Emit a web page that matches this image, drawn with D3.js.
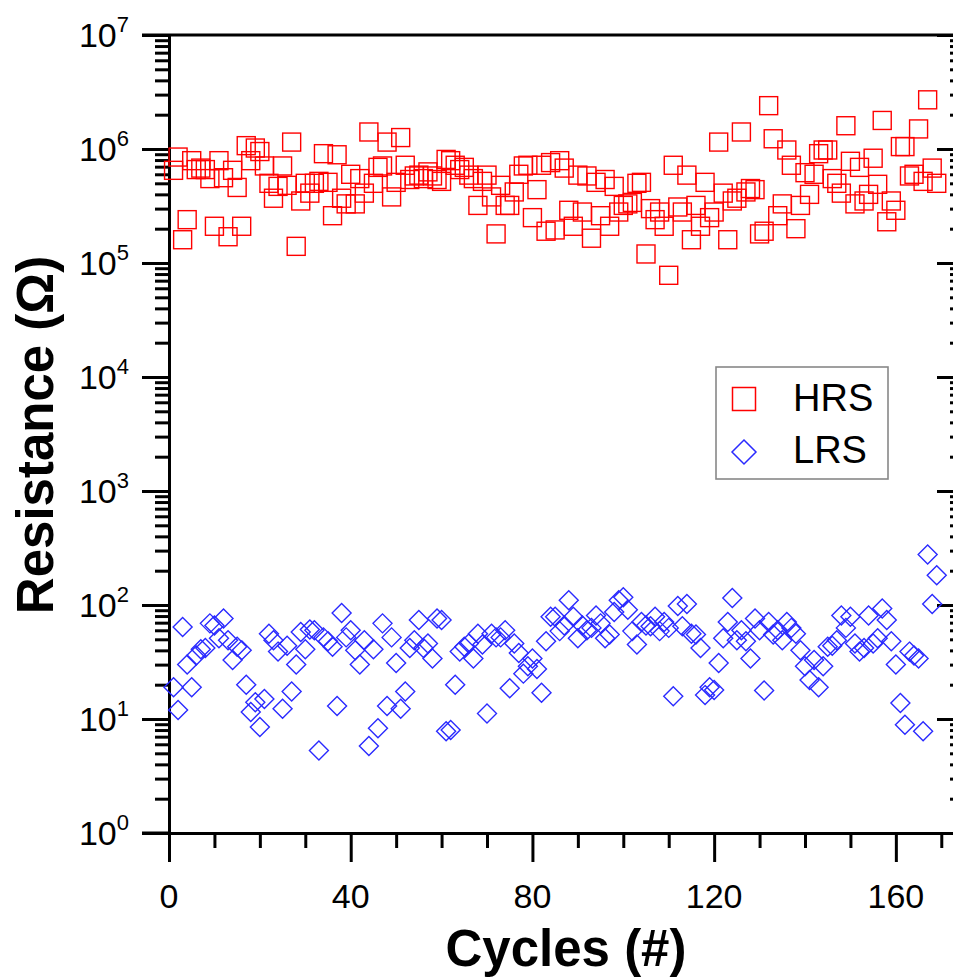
<!DOCTYPE html>
<html>
<head>
<meta charset="utf-8">
<script src="https://cdn.jsdelivr.net/npm/d3@7"></script>
<style>
  body { margin: 0; background: #fff; }
  svg { display: block; }
  text { font-family: Arial, "Liberation Sans", sans-serif; fill: #000; }
</style>
</head>
<body>
<svg id="chart" width="953" height="977"></svg>
<script>
// Resistance per switching cycle (Ω), cycles 1..169
const hrsValues = [
  6.5e5, 8.5e5, 1.6e5, 2.4e5, 7.9e5, 6.6e5, 6.8e5, 6.6e5, 5.5e5, 2.1e5,
  7.9e5, 5.6e5, 1.7e5, 6.5e5, 4.6e5, 2.1e5, 1.07e6, 7.9e5, 1.02e6, 9.5e5,
  7.1e5, 5.0e5, 3.7e5, 4.7e5, 7.1e5, 4.8e5, 1.15e6, 1.4e5, 3.5e5, 5.0e5,
  4.1e5, 5.0e5, 5.2e5, 9.1e5, 5.1e5, 2.6e5, 8.9e5, 3.7e5, 3.3e5, 6.0e5,
  3.3e5, 5.5e5, 4.1e5, 1.41e6, 5.0e5, 6.9e5, 7.1e5, 1.15e6, 3.8e5, 5.1e5,
  1.26e6, 7.2e5, 5.4e5, 5.8e5, 5.9e5, 5.5e5, 6.3e5, 5.8e5, 5.4e5, 5.2e5,
  8.1e5, 7.9e5, 7.2e5, 6.6e5, 6.9e5, 5.9e5, 5.5e5, 3.2e5, 5.2e5, 5.9e5,
  3.8e5, 1.8e5, 4.8e5, 3.2e5, 3.2e5, 4.2e5, 6.0e5, 7.1e5, 7.2e5, 2.5e5,
  4.4e5, 7.2e5, 1.9e5, 7.6e5, 1.95e5, 7.9e5, 6.8e5, 2.9e5, 2.1e5, 5.9e5,
  2.8e5, 5.8e5, 1.65e5, 5.1e5, 2.6e5, 5.4e5, 2.1e5, 4.7e5, 2.8e5, 3.2e5,
  3.3e5, 3.4e5, 5.0e5, 5.1e5, 1.2e5, 3.0e5, 2.4e5, 2.8e5, 2.1e5, 7.8e4,
  7.2e5, 3.1e5, 2.8e5, 5.9e5, 1.6e5, 3.2e5, 2.1e5, 5.1e5, 2.5e5, 2.8e5,
  1.15e6, 4.1e5, 1.6e5, 3.5e5, 3.7e5, 1.41e6, 4.2e5, 4.5e5, 4.4e5, 1.8e5,
  1.9e5, 2.4e6, 1.23e6, 2.6e5, 3.3e5, 9.8e5, 7.2e5, 2.0e5, 3.2e5, 6.2e5,
  4.0e5, 6.0e5, 9.1e5, 9.8e5, 9.8e5, 5.5e5, 5.0e5, 4.1e5, 1.6e6, 7.8e5,
  3.3e5, 6.9e5, 3.5e5, 4.0e5, 8.3e5, 4.9e5, 1.78e6, 2.3e5, 3.5e5, 2.9e5,
  1.05e6, 1.05e6, 5.8e5, 6.0e5, 1.5e6, 5.2e5, 2.7e6, 6.8e5, 5.0e5
];
const lrsValues = [
  19, 12, 64, 30, 19, 36, 41, 42, 69, 66,
  51, 76, 49, 33, 43, 40, 20, 11.5, 14, 8.5,
  15, 56, 49, 39, 12.3, 44, 17.4, 30, 58, 41,
  61, 60, 5.3, 52, 48, 43, 13, 85, 52, 60,
  40, 30, 49, 5.8, 41, 8.3, 69, 13, 52, 31,
  12.3, 17.4, 42, 49, 74, 42, 46, 34, 76, 74,
  7.8, 8, 20, 39, 43, 46, 34, 56, 45, 11.2,
  56, 52, 52, 60, 18.6, 46, 38, 25, 29, 34,
  27.5, 17, 48, 79, 79, 59, 66, 110, 79, 51,
  66, 60, 63, 81, 69, 51, 55, 87, 110, 117,
  91, 59, 45, 71, 66, 65, 79, 59, 71, 63,
  15.8, 98, 65, 102, 56, 55, 42, 16.2, 19, 18,
  31, 51, 71, 115, 49, 60, 48, 34, 76, 60,
  17.8, 71, 55, 60, 49, 71, 63, 56, 40, 29,
  22, 33, 19, 29, 43, 44, 49, 81, 63, 79,
  46, 39, 42, 81, 46, 51, 93, 74, 48, 30,
  13.8, 8.9, 39, 36, 34, 7.8, 277, 102, 182
];
const seriesNames = ["HRS", "LRS"];
const xTickValues = [0, 40, 80, 120, 160];
const yExponents = [0, 1, 2, 3, 4, 5, 6, 7];

const svg = d3.select("#chart");
const plot = { left: 169, right: 964, top: 35, bottom: 833 };

const x = d3.scaleLinear().domain([0, 175]).range([plot.left, plot.right]);
const y = d3.scaleLog().domain([1, 1e7]).range([plot.bottom, plot.top]);

const yMajor = yExponents.map(e => Math.pow(10, e));
const yMinor = [];
yExponents.slice(0, -1).forEach(e => {
  for (let k = 2; k <= 9; k++) yMinor.push(k * Math.pow(10, e));
});
const xMinor = d3.range(10, 175, 10).filter(v => v % 40 !== 0);

const axisW = 3;
function styleAxis(g) {
  g.selectAll("path.domain").attr("stroke", "#000").attr("stroke-width", axisW);
  g.selectAll(".tick line").attr("stroke", "#000").attr("stroke-width", axisW);
  g.selectAll(".tick text").remove();
}

// frame: top edge
svg.append("line")
  .attr("x1", plot.left - 27).attr("x2", plot.right)
  .attr("y1", plot.top).attr("y2", plot.top)
  .attr("stroke", "#000").attr("stroke-width", axisW);

// left axis: major and minor ticks pointing out
svg.append("g").attr("transform", `translate(${plot.left},0)`)
  .call(d3.axisLeft(y).tickValues(yMinor).tickSize(14).tickSizeOuter(0).tickFormat(""))
  .call(styleAxis);
svg.append("g").attr("transform", `translate(${plot.left},0)`)
  .call(d3.axisLeft(y).tickValues(yMajor).tickSize(27).tickSizeOuter(0).tickFormat(""))
  .call(styleAxis);

// right axis: ticks pointing in
svg.append("g").attr("transform", `translate(${plot.right},0)`)
  .call(d3.axisLeft(y).tickValues(yMinor).tickSize(14).tickSizeOuter(0).tickFormat(""))
  .call(styleAxis);
svg.append("g").attr("transform", `translate(${plot.right},0)`)
  .call(d3.axisLeft(y).tickValues(yMajor).tickSize(27).tickSizeOuter(0).tickFormat(""))
  .call(styleAxis);

// bottom axis
svg.append("g").attr("transform", `translate(0,${plot.bottom})`)
  .call(d3.axisBottom(x).tickValues(xMinor).tickSize(15).tickSizeOuter(0).tickFormat(""))
  .call(styleAxis);
svg.append("g").attr("transform", `translate(0,${plot.bottom})`)
  .call(d3.axisBottom(x).tickValues(xTickValues).tickSize(29).tickSizeOuter(0).tickFormat(""))
  .call(styleAxis);
svg.append("line")
  .attr("x1", plot.left - 27).attr("x2", plot.left)
  .attr("y1", plot.bottom).attr("y2", plot.bottom)
  .attr("stroke", "#000").attr("stroke-width", axisW);

// y tick labels 10^n
const yLab = svg.append("g");
yExponents.forEach(e => {
  const t = yLab.append("text")
    .attr("x", 129).attr("y", y(Math.pow(10, e)) + 12)
    .attr("text-anchor", "end").attr("font-size", 34);
  t.append("tspan").text("10");
  t.append("tspan").attr("font-size", 22).attr("dy", -15).text(e);
});

// x tick labels
svg.append("g").selectAll("text").data(xTickValues).join("text")
  .attr("x", d => x(d)).attr("y", 908)
  .attr("text-anchor", "middle").attr("font-size", 34)
  .text(d => d);

// axis titles
svg.append("text")
  .attr("x", 566).attr("y", 966)
  .attr("text-anchor", "middle").attr("font-size", 51).attr("font-weight", "bold")
  .text("Cycles (#)");
svg.append("text")
  .attr("transform", `translate(53,${(plot.top + plot.bottom) / 2 + 1}) rotate(-90)`)
  .attr("text-anchor", "middle").attr("font-size", 51).attr("font-weight", "bold")
  .text("Resistance (Ω)");

const hrsColor = "#ff0000";
const lrsColor = "#2a2aff";
const sq = 18, dia = 9.5;

// HRS squares
svg.append("g").selectAll("rect").data(hrsValues).join("rect")
  .attr("x", (d, i) => x(i + 1) - sq / 2)
  .attr("y", d => y(d) - sq / 2)
  .attr("width", sq).attr("height", sq)
  .attr("fill", "none").attr("stroke", hrsColor).attr("stroke-width", 1.4);

// LRS diamonds
const diamond = (cx, cy, r) => `M${cx},${cy - r}L${cx + r},${cy}L${cx},${cy + r}L${cx - r},${cy}Z`;
svg.append("g").selectAll("path").data(lrsValues).join("path")
  .attr("d", (d, i) => diamond(x(i + 1), y(d), dia))
  .attr("fill", "none").attr("stroke", lrsColor).attr("stroke-width", 1.4);

// legend
const lg = svg.append("g");
lg.append("rect").attr("x", 716).attr("y", 367).attr("width", 172).attr("height", 112)
  .attr("fill", "#fff").attr("stroke", "#888").attr("stroke-width", 1.6);
lg.append("rect").attr("x", 744 - 11.5).attr("y", 399 - 11.5).attr("width", 23).attr("height", 23)
  .attr("fill", "none").attr("stroke", hrsColor).attr("stroke-width", 1.5);
lg.append("path").attr("d", diamond(744, 452, 12))
  .attr("fill", "none").attr("stroke", lrsColor).attr("stroke-width", 1.5);
lg.selectAll("text.leg").data(seriesNames).join("text").attr("class", "leg")
  .attr("x", 793).attr("y", (d, i) => 411 + i * 52)
  .attr("font-size", 38)
  .text(d => d);
</script>
</body>
</html>
